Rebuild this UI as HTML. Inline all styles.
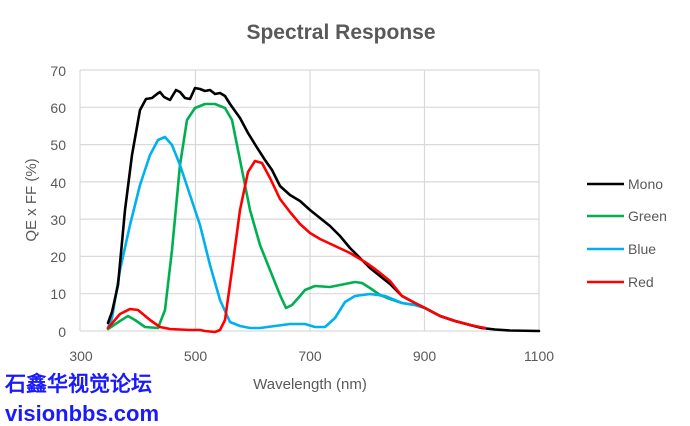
<!DOCTYPE html>
<html><head><meta charset="utf-8"><style>
html,body{margin:0;padding:0;background:#fff;}
svg{display:block;}
text{font-family:"Liberation Sans","DejaVu Sans",sans-serif;}
</style></head><body>
<svg width="690" height="426" viewBox="0 0 690 426" xmlns="http://www.w3.org/2000/svg">
<rect width="690" height="426" fill="#fff"/>
<text x="341" y="39" text-anchor="middle" font-size="21" font-weight="bold" fill="#595959">Spectral Response</text>
<g stroke="#d9d9d9" stroke-width="1.2" fill="none">
<line x1="80" y1="70" x2="539" y2="70"/>
<line x1="80" y1="107.3" x2="539" y2="107.3"/>
<line x1="80" y1="144.6" x2="539" y2="144.6"/>
<line x1="80" y1="181.9" x2="539" y2="181.9"/>
<line x1="80" y1="219.1" x2="539" y2="219.1"/>
<line x1="80" y1="256.4" x2="539" y2="256.4"/>
<line x1="80" y1="293.7" x2="539" y2="293.7"/>
<line x1="80" y1="331" x2="539" y2="331"/>
<line x1="80" y1="70" x2="80" y2="331"/>
<line x1="195.5" y1="70" x2="195.5" y2="331"/>
<line x1="310" y1="70" x2="310" y2="331"/>
<line x1="424.5" y1="70" x2="424.5" y2="331"/>
<line x1="539" y1="70" x2="539" y2="331"/>
</g>
<g font-size="14" fill="#595959" text-anchor="end">
<text x="66" y="76">70</text><text x="66" y="113">60</text><text x="66" y="150">50</text>
<text x="66" y="188">40</text><text x="66" y="225">30</text><text x="66" y="262">20</text>
<text x="66" y="299">10</text><text x="66" y="337">0</text>
</g>
<g font-size="14" fill="#595959" text-anchor="middle">
<text x="81" y="361">300</text><text x="195.5" y="361">500</text><text x="310" y="361">700</text>
<text x="424.5" y="361">900</text><text x="539" y="361">1100</text>
</g>
<text x="310" y="389" text-anchor="middle" font-size="15" fill="#595959">Wavelength (nm)</text>
<text transform="translate(36,200) rotate(-90)" text-anchor="middle" font-size="15" fill="#595959">QE x FF (%)</text>
<g fill="none" stroke-width="2.6" stroke-linejoin="round" stroke-linecap="round">
<polyline stroke="#00b050" points="108,329 120,321 128,316 135,320 145,327 158,328 165,310 172,250 180,165 187,120 195,108 205,104 215,104 225,108 232,120 240,160 250,210 260,245 270,270 280,295 286,308 292,305 300,296 305,290 315,286 330,287 340,285 355,282 362,283 370,288 380,295 390,299 402,303 415,305 425,308 440,316 455,321 470,325 482,328"/>
<polyline stroke="#00b0f0" points="108,328 112,318 120,270 130,225 140,185 150,155 158,140 165,137 172,145 180,165 190,195 200,225 210,265 220,300 230,322 240,326 250,328 260,328 275,326 290,324 305,324 315,327 325,327 335,318 345,302 355,296 370,294 385,296 402,303 415,305 425,308 440,316 455,321 470,325 482,328"/>
<polyline stroke="#000" points="108,323 112,312 118,285 125,210 132,155 140,110 146,99 152,98 157,94 160,92 164,97 170,100 176,90 180,92 185,98 190,99 195,88 200,89 205,91 210,90 215,94 220,93 225,96 230,104 240,118 248,133 256,146 265,160 272,170 280,186 290,195 300,201 310,210 320,218 330,226 340,236 350,248 360,258 370,268 380,276 390,284 402,296 415,303 425,308 440,316 455,321 470,325 482,328 495,329.5 510,330.5 539,331"/>
<polyline stroke="#ff0000" points="108,328 120,314 130,309 138,310 150,320 160,327 170,329 190,330 200,330 205,331 215,332 220,330 225,320 232,270 240,210 248,172 255,161 262,163 270,178 280,199 290,212 300,224 310,233 320,239 335,246 350,253 365,262 375,269 390,281 402,296 415,303 425,308 440,316 455,321 470,325 485,328"/>
</g>
<g stroke-width="2.6">
<line x1="587" y1="184" x2="624" y2="184" stroke="#000"/>
<line x1="587" y1="216" x2="624" y2="216" stroke="#00b050"/>
<line x1="587" y1="249" x2="624" y2="249" stroke="#00b0f0"/>
<line x1="587" y1="282" x2="624" y2="282" stroke="#ff0000"/>
</g>
<g font-size="14" fill="#595959">
<text x="628" y="189">Mono</text><text x="628" y="221">Green</text>
<text x="628" y="254">Blue</text><text x="628" y="287">Red</text>
</g>
<text x="5" y="391" font-size="21" font-weight="bold" fill="#1a1aff" font-family="'Noto Sans CJK SC','WenQuanYi Zen Hei',sans-serif">石鑫华视觉论坛</text>
<text x="5" y="421" font-size="22" font-weight="bold" fill="#1a1aff">visionbbs.com</text>
</svg>
</body></html>
